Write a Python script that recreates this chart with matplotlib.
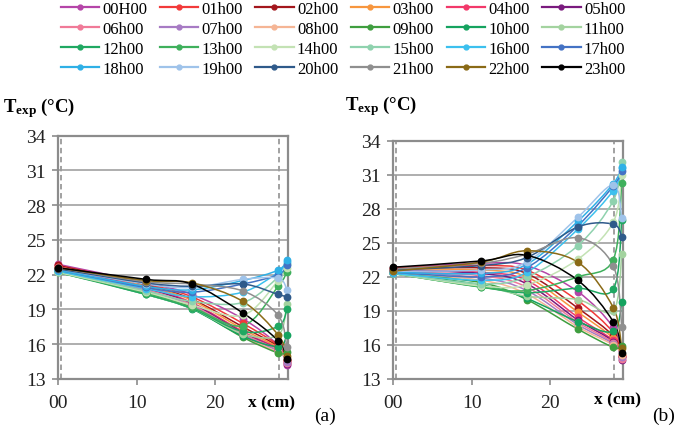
import matplotlib
matplotlib.use('Agg')
import matplotlib.pyplot as plt
from matplotlib.path import Path
from matplotlib.patches import PathPatch
from matplotlib.lines import Line2D
import numpy as np

plt.rcParams['font.family'] = ['Liberation Serif', 'DejaVu Serif']
plt.rcParams['mathtext.fontset'] = 'custom'
plt.rcParams['mathtext.rm'] = 'Liberation Serif'
plt.rcParams['mathtext.bf'] = 'Liberation Serif:bold'
plt.rcParams['mathtext.it'] = 'Liberation Serif:italic'

# ---------------- data ----------------
hours = ['00H00', '01h00', '02h00', '03h00', '04h00', '05h00',
         '06h00', '07h00', '08h00', '09h00', '10h00', '11h00',
         '12h00', '13h00', '14h00', '15h00', '16h00', '17h00',
         '18h00', '19h00', '20h00', '21h00', '22h00', '23h00']

colors = ['#b545a8', '#f23a3a', '#a3161c', '#f7963e', '#f2386a', '#7a1a7e',
          '#f07a98', '#a77bc4', '#f5b595', '#3f9e3f', '#15a35f', '#a3d39f',
          '#1fa862', '#3fb05c', '#c3e2b4', '#8fd2ae', '#3cc0ee', '#4472c4',
          '#2fb0e6', '#9fc3ea', '#2f5a8a', '#8f8f8f', '#8a6a16', '#000000']

x_cm = [0.0, 11.2, 17.0, 23.5, 28.0, 29.1]

temps_a = [
    [22.9, 21.3, 20.3, 18.2, 15.9, 14.2],
    [22.8, 21.2, 20.1, 17.8, 15.9, 14.6],
    [22.8, 21.1, 19.9, 17.5, 15.8, 14.6],
    [22.7, 21.0, 19.8, 17.3, 15.7, 14.5],
    [22.7, 20.9, 19.6, 17.1, 15.6, 14.5],
    [22.6, 20.8, 19.5, 17.0, 15.5, 14.3],
    [22.6, 20.7, 19.4, 16.9, 15.5, 14.4],
    [22.5, 20.6, 19.3, 16.8, 15.4, 14.5],
    [22.5, 20.5, 19.2, 16.7, 15.3, 14.8],
    [22.4, 20.4, 19.1, 16.6, 15.25, 15.3],
    [22.3, 20.3, 19.05, 16.7, 15.8, 16.8],
    [22.3, 20.3, 19.1, 16.9, 16.8, 19.5],
    [22.2, 20.3, 19.1, 17.1, 17.55, 19.0],
    [22.2, 20.4, 19.2, 17.6, 21.0, 22.2],
    [22.2, 20.5, 19.4, 18.5, 21.5, 22.6],
    [22.3, 20.6, 19.7, 19.6, 21.8, 22.9],
    [22.3, 20.8, 20.1, 20.5, 22.2, 23.1],
    [22.4, 20.9, 20.5, 21.2, 22.0, 22.8],
    [22.4, 21.0, 20.7, 21.5, 22.4, 23.3],
    [22.5, 21.2, 20.9, 21.6, 21.7, 20.7],
    [22.5, 21.3, 21.0, 21.2, 20.3, 20.1],
    [22.6, 21.4, 21.2, 20.6, 18.5, 15.8],
    [22.6, 21.5, 21.3, 19.7, 16.8, 15.0],
    [22.6, 21.6, 21.2, 18.7, 16.3, 14.7],
]

temps_b = [
    [22.8, 23.2, 23.0, 20.7, 17.55, 15.0],
    [22.8, 23.0, 22.6, 19.9, 17.1, 14.9],
    [22.7, 22.8, 22.3, 19.25, 16.8, 15.0],
    [22.7, 22.6, 22.0, 18.9, 16.6, 15.1],
    [22.6, 22.4, 21.7, 18.45, 16.4, 15.0],
    [22.6, 22.3, 21.4, 18.2, 16.3, 14.7],
    [22.5, 22.1, 21.1, 18.0, 16.2, 14.8],
    [22.5, 21.9, 20.8, 17.8, 16.1, 14.9],
    [22.4, 21.7, 20.5, 17.6, 16.0, 15.1],
    [22.3, 21.5, 20.0, 17.4, 15.8, 15.9],
    [22.3, 21.3, 20.1, 18.05, 17.2, 19.8],
    [22.3, 21.2, 20.3, 20.0, 19.0, 24.0],
    [22.3, 21.1, 20.6, 21.0, 20.9, 27.0],
    [22.3, 21.1, 20.8, 22.0, 23.5, 30.3],
    [22.3, 21.2, 21.3, 23.55, 26.8, 31.0],
    [22.3, 21.4, 22.0, 24.75, 28.7, 32.1],
    [22.3, 21.7, 22.4, 26.2, 29.6, 31.6],
    [22.4, 22.0, 22.8, 26.5, 30.0, 31.3],
    [22.4, 22.3, 23.1, 26.9, 30.2, 31.7],
    [22.5, 22.6, 23.3, 27.25, 30.1, 27.2],
    [22.6, 23.0, 23.7, 26.4, 26.65, 25.5],
    [22.7, 23.2, 24.0, 25.45, 23.0, 17.6],
    [22.5, 23.3, 24.3, 23.3, 19.3, 15.7],
    [22.85, 23.4, 23.9, 21.7, 18.05, 15.3],
]

y_ticks = [13, 16, 19, 22, 25, 28, 31, 34]
x_ticks = [0, 10, 20]
x_tick_labels = ['00', '10', '20']
panel_tags = ['(a)', '(b)']

W, H = 685, 427


def fx(px):
    return px / W


def fy(py):
    return 1 - py / H


def smooth_path(xs, ys):
    P = np.column_stack([xs, ys]).astype(float)
    n = len(P)
    verts = [P[0]]
    codes = [Path.MOVETO]
    for i in range(n - 1):
        p_prev = P[i - 1] if i > 0 else P[i]
        p_next2 = P[i + 2] if i + 2 < n else P[i + 1]
        c1 = P[i] + (P[i + 1] - p_prev) / 6.0
        c2 = P[i + 1] - (p_next2 - P[i]) / 6.0
        verts += [c1, c2, P[i + 1]]
        codes += [Path.CURVE4] * 3
    return Path(verts, codes)


fig = plt.figure(figsize=(6.85, 4.27), dpi=100)
ax_a = fig.add_axes([fx(58), fy(380), fx(288) - fx(58), fy(136.7) - fy(380)])
ax_b = fig.add_axes([fx(393), fy(380), fx(623) - fx(393), fy(141.7) - fy(380)])

spine_col = '#8c8c8c'
for ax, temps in ((ax_a, temps_a), (ax_b, temps_b)):
    ax.set_xlim(0, 29.25)
    ax.set_ylim(13, 34)
    ax.set_yticks(y_ticks)
    ax.set_xticks(x_ticks)
    ax.set_xticklabels(x_tick_labels)
    ax.yaxis.grid(True, color='#a8a8a8', lw=1.3)
    ax.set_axisbelow(True)
    for s in ax.spines.values():
        s.set_color(spine_col)
        s.set_linewidth(1.6)
    ax.tick_params(axis='both', direction='out', length=4, width=1.2,
                   color=spine_col, labelsize=14, labelcolor='#222222')
    ax.tick_params(axis='x', pad=7)
    ax.tick_params(axis='y', pad=5)
    ax.axvline(0.35, color='#9a9a9a', lw=1.3, ls=(0, (3, 2)), zorder=1.5)
    ax.axvline(28.1, color='#9a9a9a', lw=1.3, ls=(0, (3, 2)), zorder=1.5)
    for vals, col in zip(temps, colors):
        patch = PathPatch(smooth_path(x_cm, vals), facecolor='none',
                          edgecolor=col, lw=1.1, zorder=2)
        ax.add_patch(patch)
        ax.plot(x_cm, vals, ls='none', marker='o', ms=4.6, color=col,
                zorder=3, clip_on=False)

ylab = r'$\mathbf{T}_{\mathbf{exp}}$' + ' (°C)'
fig.text(fx(3), fy(108), ylab, fontsize=13.5, fontweight='bold', va='center', ha='left')
fig.text(fx(345), fy(106), ylab, fontsize=13.5, fontweight='bold', va='center', ha='left')
fig.text(fx(272), fy(403), 'x (cm)', fontsize=12.5, fontweight='bold', va='center', ha='center')
fig.text(fx(617), fy(400), 'x (cm)', fontsize=12.5, fontweight='bold', va='center', ha='center')
fig.text(fx(325), fy(416), panel_tags[0], fontsize=14, va='center', ha='center')
fig.text(fx(664), fy(416), panel_tags[1], fontsize=14, va='center', ha='center')

handles = [Line2D([], [], color=c, lw=1.6, marker='o', ms=3.5) for c in colors]
ncol, nrow = 6, 4
order = [r * ncol + c for c in range(ncol) for r in range(nrow)]
fig.legend([handles[i] for i in order], [hours[i] for i in order],
           loc='upper center', bbox_to_anchor=(fx(343), 1.0), ncol=ncol,
           frameon=False, fontsize=12, handlelength=2.3, handletextpad=0.2,
           columnspacing=0.75, labelspacing=0.24, borderpad=0.1, borderaxespad=0)

fig.savefig('out.png', dpi=100)
